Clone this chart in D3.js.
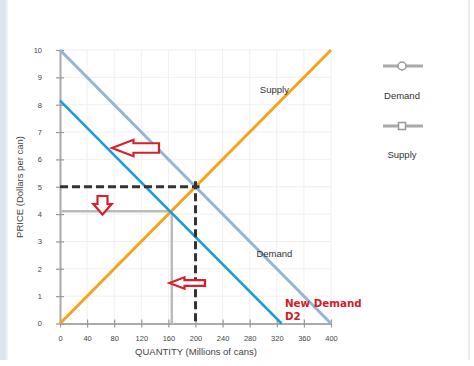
<!DOCTYPE html>
<html><head><meta charset="utf-8">
<script src="https://cdn.jsdelivr.net/npm/d3@7"></script>
<style>body{margin:0;background:#fff;}svg{display:block;font-family:"Liberation Sans",Arial,sans-serif;}</style>
</head><body>
<svg id="c" width="474" height="366"></svg>
<script>
const xTicks = [0,40,80,120,160,200,240,280,320,360,400];
const yTicks = [0,1,2,3,4,5,6,7,8,9,10];
const demand = [[0,10],[400,0]];
const supply = [[0,0],[400,10]];
const newDemand = [[0,8.15],[327,0]];
const equilibrium = [200,5];
const newEquilibrium = [165,4.1];
const labels = [{t:"Supply",q:295,p:8.43},{t:"Demand",q:290,p:2.42}];

const svg = d3.select("#c");
const x = d3.scaleLinear().domain([0,400]).range([60,331]);
const y = d3.scaleLinear().domain([0,10]).range([323.5,50]);

// container frame
svg.append("rect").attr("x",0).attr("y",0).attr("width",6).attr("height",360).attr("fill","#dfe5ee");
svg.append("line").attr("x1",7).attr("x2",7).attr("y1",0).attr("y2",360).attr("stroke","#e8ecf2").attr("stroke-width",1.5);
svg.append("line").attr("x1",469).attr("x2",469).attr("y1",0).attr("y2",360).attr("stroke","#e6e6e6").attr("stroke-width",1.5);

// grid
svg.append("g").selectAll("line").data(xTicks.slice(1)).join("line")
  .attr("x1",d=>x(d)).attr("x2",d=>x(d)).attr("y1",y(10)).attr("y2",y(0))
  .attr("stroke","#f0f0f0");
svg.append("g").selectAll("line").data(yTicks.slice(1)).join("line")
  .attr("x1",x(0)).attr("x2",x(400)).attr("y1",d=>y(d)).attr("y2",d=>y(d))
  .attr("stroke","#f0f0f0");

// axes
const xa = svg.append("g").attr("transform",`translate(0,${y(0)})`)
  .call(d3.axisBottom(x).tickValues(xTicks).tickSizeInner(4).tickSizeOuter(0).tickPadding(8));
const ya = svg.append("g").attr("transform",`translate(${x(0)},0)`)
  .call(d3.axisLeft(y).tickValues(yTicks).tickSizeInner(4).tickSizeOuter(0).tickPadding(14));
[xa,ya].forEach(a=>{
  a.select(".domain").attr("stroke","#aaa").attr("stroke-width",2);
  a.selectAll(".tick line").attr("stroke","#999").attr("stroke-width",1.2);
  a.selectAll("text").attr("fill","#444").attr("font-size",7.5);
});
xa.selectAll(".tick line").attr("y1",-4);
ya.selectAll(".tick line").attr("x1",4);

svg.append("text").attr("x",196).attr("y",355).attr("text-anchor","middle")
  .attr("font-size",9.5).attr("fill","#444").text("QUANTITY (Millions of cans)");
svg.append("text").attr("transform","translate(23,187) rotate(-90)").attr("text-anchor","middle")
  .attr("font-size",9.5).attr("fill","#444").text("PRICE (Dollars per can)");

const line = d3.line().x(d=>x(d[0])).y(d=>y(d[1]));

// reference lines for new equilibrium (gray)
svg.append("path").attr("d",line([[0,newEquilibrium[1]],newEquilibrium,[newEquilibrium[0],0]]))
  .attr("fill","none").attr("stroke","#bbb").attr("stroke-width",2.5);

// curves
svg.append("path").attr("d",line(supply)).attr("fill","none").attr("stroke","#f7a21b").attr("stroke-width",3);
svg.append("path").attr("d",line(demand)).attr("fill","none").attr("stroke","#93b5d6").attr("stroke-width",3);
svg.append("path").attr("d",line(newDemand)).attr("fill","none").attr("stroke","#1c9bd8").attr("stroke-width",2.5);

// dashed equilibrium lines
svg.append("path").attr("d",line([[0,equilibrium[1]],[equilibrium[0]+6,equilibrium[1]]]))
  .attr("fill","none").attr("stroke","#333").attr("stroke-width",3).attr("stroke-dasharray","8,4");
svg.append("path").attr("d",line([[equilibrium[0],equilibrium[1]+0.2],[equilibrium[0],0]]))
  .attr("fill","none").attr("stroke","#333").attr("stroke-width",3).attr("stroke-dasharray","8,4");

// labels
svg.append("g").selectAll("text").data(labels).join("text")
  .attr("x",d=>x(d.q)).attr("y",d=>y(d.p)).attr("font-size",9.5).attr("fill","#333").text(d=>d.t);
svg.append("text").attr("x",285).attr("y",307).attr("font-family","DejaVu Sans").attr("font-weight","bold")
  .attr("font-size",10.3).attr("fill","#d11a2a").text("New Demand");
svg.append("text").attr("x",285).attr("y",320).attr("font-family","DejaVu Sans").attr("font-weight","bold")
  .attr("font-size",10.3).attr("fill","#d11a2a").text("D2");

// arrows (outlined)
function leftArrow(tipX,cy,headLen,headH,shaftH,endX){
  const hx=tipX+headLen;
  return `M${tipX},${cy} L${hx},${cy-headH/2} L${hx},${cy-shaftH/2} L${endX},${cy-shaftH/2} L${endX},${cy+shaftH/2} L${hx},${cy+shaftH/2} L${hx},${cy+headH/2} Z`;
}
svg.append("path").attr("d",leftArrow(112,148,21.5,16.5,9.5,159))
  .attr("fill","#fff").attr("stroke","#d9202a").attr("stroke-width",2.2).attr("stroke-linejoin","miter");
svg.append("path").attr("d",leftArrow(169.5,283,15,11.5,5.6,205))
  .attr("fill","#fff").attr("stroke","#d9202a").attr("stroke-width",2.2);
// down arrow
(function(){
  const cx=102.5, top=196, hy=204, tip=214.5, hw=9.2, sw=5;
  svg.append("path").attr("d",`M${cx-sw},${top} L${cx+sw},${top} L${cx+sw},${hy} L${cx+hw},${hy} L${cx},${tip} L${cx-hw},${hy} L${cx-sw},${hy} Z`)
    .attr("fill","#fff").attr("stroke","#d9202a").attr("stroke-width",2.2);
})();

// legend
const legend = [{t:"Demand",shape:"circle",ly:66,ty:99},{t:"Supply",shape:"square",ly:126,ty:158}];
const lg = svg.append("g");
legend.forEach(d=>{
  lg.append("line").attr("x1",383).attr("x2",423).attr("y1",d.ly).attr("y2",d.ly).attr("stroke","#aaa").attr("stroke-width",3);
  if(d.shape==="circle") lg.append("circle").attr("cx",402).attr("cy",d.ly).attr("r",4).attr("fill","#fff").attr("stroke","#999").attr("stroke-width",1.5);
  else lg.append("rect").attr("x",398.5).attr("y",d.ly-3.5).attr("width",7).attr("height",7).attr("fill","#fff").attr("stroke","#999").attr("stroke-width",1.5);
  lg.append("text").attr("x",402).attr("y",d.ty).attr("text-anchor","middle").attr("font-size",9.5).attr("fill","#333").text(d.t);
});
</script>
</body></html>
